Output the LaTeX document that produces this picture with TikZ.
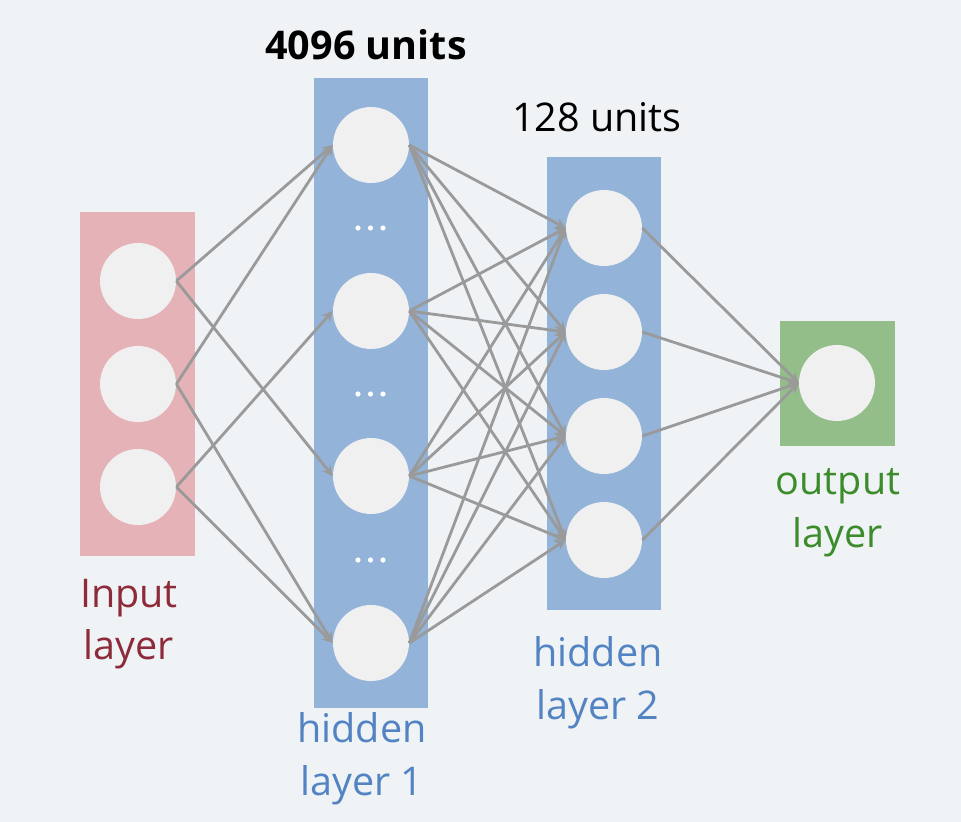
\documentclass[tikz,border=0pt]{standalone}
\usepackage{fontspec}
\setmainfont{Open Sans}
\usepackage{xcolor}
\usetikzlibrary{arrows, shapes, positioning, calc}

\definecolor{bgcol}{HTML}{F0F3F5}
\definecolor{inbox}{HTML}{E5B2B8}
\definecolor{hidbox}{HTML}{93B3D9}
\definecolor{outbox}{HTML}{93BE8A}
\definecolor{intext}{HTML}{8E2B3A}
\definecolor{hidtext}{HTML}{5283C3}
\definecolor{outtext}{HTML}{3C8C2C}
\definecolor{cellcol}{HTML}{F0F0F0}
\definecolor{wirecol}{HTML}{9A9A9A}

\tikzset{
    layerbox/.style={rectangle, inner sep=0pt, minimum width=2.3cm},
    neuron/.style={circle, fill=cellcol, inner sep=0pt, minimum size=1.52cm},
    wire/.style={->, draw=wirecol, line width=1.6pt},
    lbl/.style={align=center, font=\fontsize{22.5}{30}\selectfont},
}

\begin{document}
\begin{tikzpicture}[>=stealth, x=0.02cm, y=-0.02cm]
        \fill[bgcol] (0,0) rectangle (961,822);
        \useasboundingbox (0,0) rectangle (961,822);

        % layer boxes
        \node[layerbox, fill=inbox, minimum height=6.88cm] (inbg) at (137.5,384) {};
        \node[layerbox, fill=hidbox, minimum height=12.6cm] (h1bg) at (371,393) {};
        \node[layerbox, fill=hidbox, minimum height=9.06cm] (h2bg) at (604,383.5) {};
        \node[layerbox, fill=outbox, minimum height=2.5cm] (outbg) at (837.5,383.5) {};

        % neurons
        \foreach \i/\y in {1/281, 2/384, 3/487}
            \node[neuron] (in\i) at (138,\y) {};
        \foreach \i/\y in {1/145, 2/311, 3/476, 4/643}
            \node[neuron] (ha\i) at (371,\y) {};
        \foreach \i/\y in {1/228, 2/332, 3/436, 4/540}
            \node[neuron] (hb\i) at (604,\y) {};
        \node[neuron] (out) at (837,383) {};

        % dots between hidden units
        \foreach \y in {228, 394, 560}
            \foreach \x in {358, 370.5, 383}
                \fill[white] (\x,\y) circle (2.6);

        % connections
        \foreach \a/\b in {1/1, 1/3, 2/1, 2/4, 3/2, 3/4}
            \draw[wire] (in\a.east) -- (ha\b.west);
        \foreach \a in {1,2,3,4}
            \foreach \b in {1,2,3,4}
                \draw[wire] (ha\a.east) -- (hb\b.west);
        \foreach \a in {1,2,3,4}
            \draw[wire] (hb\a.east) -- (out.west);

        % labels
        \node[lbl, font=\fontsize{22.5}{30}\selectfont\bfseries] (units1) at (366,45) {4096 units};
        \node[lbl] (units2) at (597,117) {128 units};
        \node[lbl, text=intext] (inlbl) at (129,624) {Input\\layer};
        \node[lbl, text=hidtext] (h1lbl) at (362,759) {hidden\\layer 1};
        \node[lbl, text=hidtext] (h2lbl) at (598,683) {hidden\\layer 2};
        \node[lbl, text=outtext] (outlbl) at (838,513) {output\\layer};
    \end{tikzpicture}
\end{document}
